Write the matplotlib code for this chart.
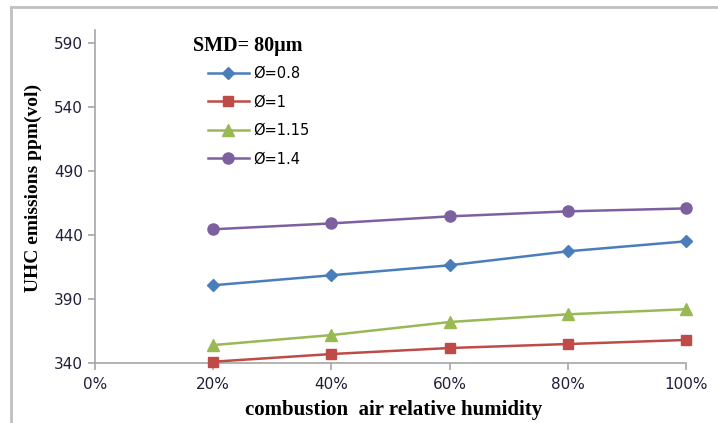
import matplotlib.pyplot as plt
from matplotlib.lines import Line2D
from matplotlib.ticker import FuncFormatter

# dados
humidity = [0.2, 0.4, 0.6, 0.8, 1.0]
phi_08 = [400.7, 408.5, 416.3, 427.2, 435.0]
phi_1 = [341.0, 347.0, 351.7, 354.8, 358.0]
phi_115 = [354.0, 361.8, 372.0, 378.0, 382.0]
phi_14 = [444.4, 449.0, 454.5, 458.4, 460.7]
labels = ['Ø=0.8', 'Ø=1', 'Ø=1.15', 'Ø=1.4']
y_ticks = [340, 390, 440, 490, 540, 590]
x_ticks = [0, 0.2, 0.4, 0.6, 0.8, 1.0]

W, H = 718, 423
fig = plt.figure(figsize=(W / 100, H / 100), dpi=100)
ax = fig.add_axes([95 / W, 1 - 363 / H, (686 - 95) / W, (363 - 30) / H])

series = [
    (phi_08, '#4A7EBB', 'D', 6.5),
    (phi_1, '#BE4B48', 's', 7.5),
    (phi_115, '#98B954', '^', 8),
    (phi_14, '#7D60A0', 'o', 8),
]
for (vals, color, mk, ms), lab in zip(series, labels):
    ax.plot(humidity, vals, color=color, marker=mk, markersize=ms,
            linewidth=1.8, label=lab, clip_on=False, zorder=3)

ax.set_xlim(0, 1.0)
ax.set_ylim(340, 600)
ax.set_xticks(x_ticks)
ax.set_yticks(y_ticks)
ax.xaxis.set_major_formatter(FuncFormatter(lambda v, p: f'{v * 100:.0f}%'))

for s in ['top', 'right']:
    ax.spines[s].set_visible(False)
for s in ['left', 'bottom']:
    ax.spines[s].set_color('#A6A6A6')
    ax.spines[s].set_linewidth(1.2)
ax.tick_params(axis='both', colors='#A6A6A6', labelcolor='#1F1F3A',
               labelsize=11, length=5, width=1.2)
ax.tick_params(axis='x', pad=5)

serif = ['Liberation Serif', 'DejaVu Serif']
fig.text(394 / W, 1 - 410 / H, 'combustion  air relative humidity',
         ha='center', va='center', fontsize=15, fontweight='bold', family=serif)
fig.text(33 / W, 1 - 188 / H, 'UHC emissions ppm(vol)', rotation=90,
         ha='center', va='center', fontsize=14, fontweight='bold', family=serif)
fig.text(193 / W, 1 - 46 / H, 'SMD= 80μm', ha='left', va='center',
         fontsize=14.5, fontweight='bold', family=serif)

ax.legend(loc='upper left', bbox_to_anchor=(208 / W, 1 - 66 / H),
          bbox_transform=fig.transFigure, frameon=False, fontsize=10.5,
          borderpad=0, borderaxespad=0, handlelength=2.8,
          handletextpad=0.3, labelspacing=0.92)

# moldura cinza do grafico (estilo Excel)
fig.add_artist(Line2D([11 / W, 1.0], [1 - 7 / H, 1 - 7 / H],
                      transform=fig.transFigure, color='#C0C0C0', linewidth=2))
fig.add_artist(Line2D([11 / W, 11 / W], [0, 1 - 7 / H],
                      transform=fig.transFigure, color='#C0C0C0', linewidth=2))

fig.savefig('out.png', dpi=100)
